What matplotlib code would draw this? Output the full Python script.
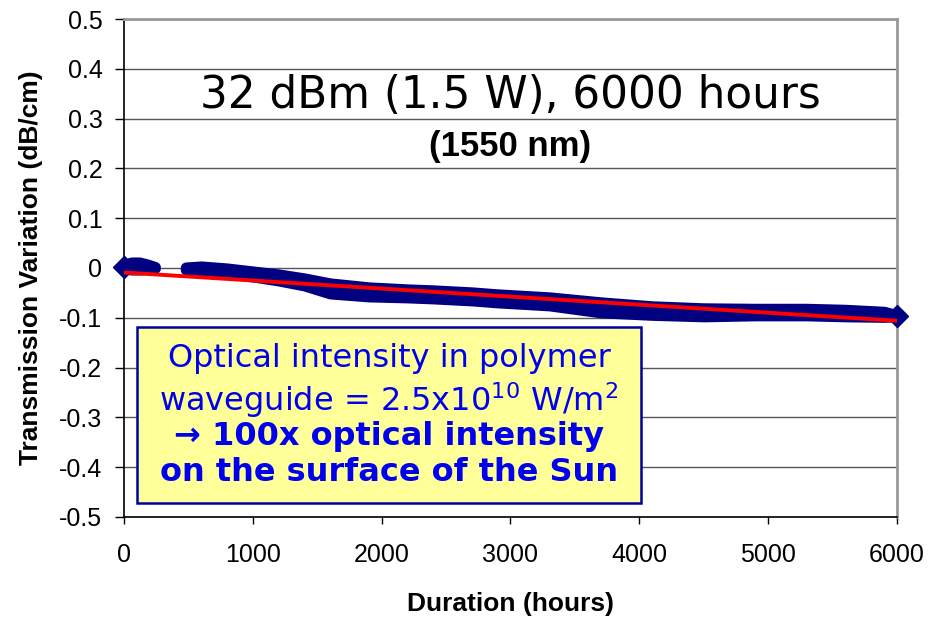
import matplotlib.pyplot as plt
from matplotlib.patches import Rectangle

# measured transmission band (range of the data points), first run
hours_a = [0, 60, 120, 180, 240]
hi_a = [0.007, 0.011, 0.011, 0.007, 0.002]
lo_a = [-0.001, -0.003, -0.003, -0.002, 0.0]

# second run
hours_b = [480, 600, 800, 1000, 1200, 1400, 1600, 1900, 2200, 2400, 2700, 2900, 3300, 3700,
           4100, 4500, 4900, 5300, 5600, 5900, 6000]
hi_b = [0.001, 0.003, -0.001, -0.007, -0.013, -0.021, -0.031, -0.039, -0.043, -0.045, -0.049, -0.053, -0.059, -0.069,
        -0.077, -0.081, -0.082, -0.082, -0.084, -0.088, -0.095]
lo_b = [-0.003, -0.007, -0.011, -0.017, -0.025, -0.035, -0.051, -0.057, -0.059, -0.061, -0.065, -0.069, -0.075, -0.089,
        -0.094, -0.097, -0.095, -0.095, -0.097, -0.098, -0.097]

# first and last readings of the test
end_x = [0, 6000]
end_y = [0.003, -0.097]

# linear fit
fit_x = [0, 6000]
fit_y = [-0.009, -0.106]

yticks = [0.5, 0.4, 0.3, 0.2, 0.1, 0, -0.1, -0.2, -0.3, -0.4, -0.5]
xticks = [0, 1000, 2000, 3000, 4000, 5000, 6000]

navy = '#000080'
blue = '#0000ee'

fig = plt.figure(figsize=(9.33, 6.17), dpi=100)
ax = fig.add_axes([0.1329, 0.1621, 0.8285, 0.8071])

for y in yticks:
    ax.axhline(y, color='#555555', lw=1.0, zorder=1)

for hx, lo, hi in [(hours_a, lo_a, hi_a), (hours_b, lo_b, hi_b)]:
    ax.fill_between(hx, lo, hi, facecolor=navy, edgecolor=navy, lw=8,
                    joinstyle='round', capstyle='round', zorder=3)
ax.plot(end_x, end_y, 'D', color=navy, ms=11, zorder=3, clip_on=False)
ax.plot(fit_x, fit_y, color='#ff0000', lw=2.8, zorder=4)

ax.set_xlim(0, 6000)
ax.set_ylim(-0.5, 0.5)
ax.set_xticks(xticks)
ax.set_yticks(yticks)
ax.set_yticklabels([('%g' % v) for v in yticks])

for s in ['left', 'bottom']:
    ax.spines[s].set_color('black')
    ax.spines[s].set_linewidth(1.2)
ax.spines['top'].set_color('#999999')
ax.spines['top'].set_linewidth(2)
ax.spines['right'].set_color('#999999')
ax.spines['right'].set_linewidth(2)

ax.tick_params(axis='y', direction='out', length=6.5, width=1, pad=9,
               labelsize=18)
ax.tick_params(axis='x', direction='out', length=5, width=1, pad=14,
               labelsize=18)
for lab in ax.get_xticklabels() + ax.get_yticklabels():
    lab.set_fontfamily('Liberation Sans')

ax.set_xlabel('Duration (hours)', fontsize=19, fontweight='bold',
              family='Liberation Sans', labelpad=18)
ax.set_ylabel('Transmission Variation (dB/cm)', fontsize=19, fontweight='bold',
              family='Liberation Sans', labelpad=12)

ax.text(3000, 0.347, '32 dBm (1.5 W), 6000 hours', ha='center', va='center',
        fontsize=31.5, family='DejaVu Sans', color='black', zorder=5)
ax.text(3000, 0.243, '(1550 nm)', ha='center', va='center', fontsize=25,
        fontweight='bold', family='Liberation Sans', color='black', zorder=5)

ax.add_patch(Rectangle((101, -0.472), 3913, 0.354, facecolor='#ffff99',
                       edgecolor='#0000a0', lw=1.8, zorder=6))
bx = 2057
ax.text(bx, -0.181, 'Optical intensity in polymer', ha='center', va='center',
        fontsize=23, color=blue, family='DejaVu Sans', zorder=7)
ax.text(bx, -0.265, r'waveguide = 2.5x10$^{10}$ W/m$^{2}$', ha='center', va='center',
        fontsize=23, color=blue, family='DejaVu Sans', zorder=7)
ax.text(bx, -0.339, '\u2192 100x optical intensity', ha='center', va='center',
        fontsize=23, color=blue, fontweight='bold', family='DejaVu Sans', zorder=7)
ax.text(bx, -0.41, 'on the surface of the Sun', ha='center', va='center',
        fontsize=23, color=blue, fontweight='bold', family='DejaVu Sans', zorder=7)

fig.savefig('out.png', dpi=100)
